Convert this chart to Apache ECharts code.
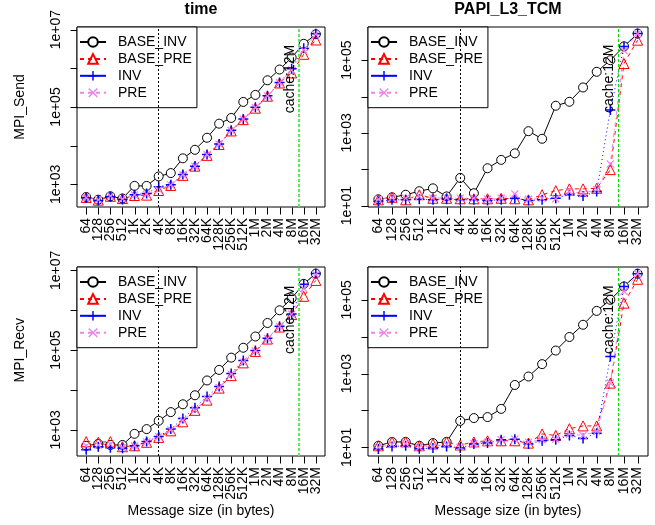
<!DOCTYPE html>
<html>
<head>
<meta charset="utf-8">
<script src="https://cdn.jsdelivr.net/npm/echarts@6.0.0/dist/echarts.min.js"></script>
<style>
html, body { margin: 0; padding: 0; background: #fff; }
#main { width: 655px; height: 525px; }
</style>
</head>
<body>
<div id="main"></div>
<script>
// message sizes on the x axis
var sizes = ['64', '128', '256', '512', '1K', '2K', '4K', '8K', '16K', '32K', '64K',
  '128K', '256K', '512K', '1M', '2M', '4M', '8M', '16M', '32M'];
var seriesNames = ['BASE_INV', 'BASE_PRE', 'INV', 'PRE'];

// time, MPI_Send
var sendTimeBaseInv = [470, 400, 490, 430, 910, 910, 1600, 1950, 4700, 7800, 16000, 37000, 52000, 135000, 205000, 490000, 930000, 1900000, 4300000, 7600000];
var sendTimeBasePre = [457, 389, 490, 427, 513, 525, 692, 933, 1700, 2950, 5600, 10700, 24000, 47000, 93000, 190000, 417000, 760000, 2300000, 5400000];
var sendTimeInv = [447, 380, 479, 407, 537, 575, 870, 977, 1780, 2950, 5900, 11000, 25000, 49000, 98000, 195000, 427000, 980000, 3300000, 7800000];
var sendTimePre = [447, 398, 500, 417, 525, 550, 720, 960, 1750, 2900, 5800, 10900, 24500, 48000, 96000, 192000, 420000, 900000, 2950000, 7600000];

// PAPI_L3_TCM, MPI_Send
var sendL3BaseInv = [15, 17, 20, 25, 30, 18, 58, 22, 107, 182, 275, 1120, 690, 5600, 7200, 17800, 48000, 100000, 240000, 540000];
var sendL3BasePre = [14.5, 17, 14.5, 20, 16, 16, 15.5, 15.5, 15.5, 16, 15.5, 14.5, 20, 26, 29, 29, 30, 98, 81000, 355000];
var sendL3Inv = [13, 14.5, 14.5, 15, 14.5, 15, 14.5, 14.5, 14, 14.5, 16, 14, 14.5, 16, 20, 18.5, 24.5, 4300, 240000, 540000];
var sendL3Pre = [15, 16.5, 16, 18, 16, 16.5, 16, 16, 15, 16, 21, 15, 16, 15.5, 24.5, 22, 27.5, 140, 186000, 540000];

// time, MPI_Recv
var recvTimeBaseInv = [400, 450, 420, 420, 800, 1050, 1700, 2800, 4400, 7400, 17400, 32000, 65000, 115000, 220000, 480000, 1000000, 2000000, 4600000, 8300000];
var recvTimeBasePre = [510, 490, 510, 380, 400, 490, 650, 950, 1600, 3100, 5600, 11200, 23000, 48000, 93000, 190000, 380000, 780000, 2240000, 5600000];
var recvTimeInv = [320, 380, 360, 350, 400, 510, 690, 1050, 1950, 3600, 6900, 12300, 26000, 55000, 98000, 200000, 400000, 810000, 4500000, 8300000];
var recvTimePre = [400, 420, 440, 360, 400, 500, 680, 1000, 1740, 3200, 6000, 11500, 25000, 50000, 95000, 195000, 390000, 790000, 3500000, 7900000];

// PAPI_L3_TCM, MPI_Recv
var recvL3BaseInv = [11, 14, 14, 11, 13, 14, 52, 62, 66, 110, 490, 830, 1800, 4200, 9800, 21000, 50000, 100000, 230000, 510000];
var recvL3BasePre = [11, 14, 14, 11, 12.3, 14, 11.5, 14, 15, 15, 15, 13, 23, 21, 32, 38, 38, 550, 81000, 360000];
var recvL3Inv = [9, 10.5, 11, 9.1, 9.5, 10.5, 9.5, 12.3, 13, 16, 16.6, 12.3, 15, 16, 21, 17.4, 24, 2900, 230000, 510000];
var recvL3Pre = [10, 12, 12.6, 10, 10.5, 12, 10, 12.6, 13.5, 16, 16.6, 13.8, 16, 16.6, 23, 21, 27, 550, 170000, 510000];

// y ticks, as powers of ten, and the labelled ones
var timeTicks = [3, 4, 5, 6, 7];
var timeLabels = [3, 5, 7];
var l3Ticks = [1, 2, 3, 4, 5];
var l3Labels = [1, 3, 5];

// 4K marker and 12M cache size (as position on the log2 size scale)
var markX = 6;
var cacheX = Math.log2(12 * 1024 * 1024 / 64);

var font = '"Liberation Sans", Arial, sans-serif';
var colors = ['#000000', '#ff0000', '#0000ff', '#ee82ee'];
var plusPath = 'path://M4.25,0H5.75V4.25H10V5.75H5.75V10H4.25V5.75H0V4.25H4.25Z';
var crossPath = 'path://M0,1.06L1.06,0L5,3.94L8.94,0L10,1.06L6.06,5L10,8.94L8.94,10L5,6.06L1.06,10L0,8.94L3.94,5Z';
var symbols = ['circle', 'triangle', plusPath, crossPath];
var symbolSizes = [9, 10, 10, 8];
var fills = ['#ffffff', 'rgba(255,255,255,0)', '#0000ff', '#ee82ee'];
var dashes = ['solid', [4, 4], [1, 3], [1, 3, 4, 3]];

// R style 4% padding of the x range
var xmin = -0.76, xmax = 19.76;
var tickLen = 7;

// y extents are given as exponents (log10)
var panels = [
  { grid: { left: 77, top: 27, width: 248, height: 180 }, data: [sendTimeBaseInv, sendTimeBasePre, sendTimeInv, sendTimePre],
    ymin: 2.413, ymax: 7.068, ticks: timeTicks, labels: timeLabels, yname: 'MPI_Send', xname: '', green: 2, textY: 5.72 },
  { grid: { left: 368, top: 27, width: 280, height: 180 }, data: [sendL3BaseInv, sendL3BasePre, sendL3Inv, sendL3Pre],
    ymin: 0.964, ymax: 5.913, ticks: l3Ticks, labels: l3Labels, yname: '', xname: '', green: 1, textY: 4.49 },
  { grid: { left: 77, top: 267, width: 248, height: 189 }, data: [recvTimeBaseInv, recvTimeBasePre, recvTimeInv, recvTimePre],
    ymin: 2.347, ymax: 7.085, ticks: timeTicks, labels: timeLabels, yname: 'MPI_Recv', xname: 'Message size (in bytes)', green: 2, textY: 5.76 },
  { grid: { left: 368, top: 267, width: 280, height: 189 }, data: [recvL3BaseInv, recvL3BasePre, recvL3Inv, recvL3Pre],
    ymin: 0.764, ymax: 5.889, ticks: l3Ticks, labels: l3Labels, yname: '', xname: 'Message size (in bytes)', green: 1, textY: 4.46 }
];

function expLabel(labels) {
  return function (e) {
    e = Math.round(Number(e));
    if (labels.indexOf(e) < 0) return '';
    return '1e+' + (e < 10 ? '0' : '') + e;
  };
}

// axis with nothing drawn
function bare(o) {
  return Object.assign({
    axisLine: { show: false }, axisTick: { show: false },
    axisLabel: { show: false }, splitLine: { show: false }
  }, o);
}

// outward tick at a data point, dx/dy in pixels
function tickItem(dx, dy) {
  return function (params, api) {
    var pt = api.coord([api.value(0), api.value(1)]);
    var x = Math.round(pt[0]) + 0.5, y = Math.round(pt[1]) + 0.5;
    return {
      type: 'line', silent: true,
      shape: { x1: x, y1: y, x2: x + dx, y2: y + dy },
      style: { stroke: '#000', lineWidth: 1 }
    };
  };
}

var grids = [], xAxes = [], yAxes = [], series = [], legends = [];

panels.forEach(function (p, g) {
  var gr = p.grid;
  var xPix = function (i) { return gr.left + gr.width * (i - xmin) / (xmax - xmin); };
  var yPix = function (e) { return gr.top + gr.height * (p.ymax - e) / (p.ymax - p.ymin); };
  var first = p.ticks[0], last = p.ticks[p.ticks.length - 1];
  var base = grids.length;

  // plotting region with box
  grids.push(Object.assign({ show: true, borderColor: '#000', borderWidth: 1, backgroundColor: 'transparent' }, gr));
  // strip under the box for the size labels
  var gx = { show: false, left: xPix(0), top: gr.top + gr.height, height: tickLen };
  gx.width = xPix(sizes.length - 1) - gx.left;
  grids.push(gx);
  // strip left of the box for the decade labels
  var gy = { show: false, left: gr.left - tickLen, width: tickLen, top: yPix(last) };
  gy.height = yPix(first) - gy.top;
  grids.push(gy);

  // data axes
  xAxes.push(bare({ type: 'value', gridIndex: base, min: xmin, max: xmax }));
  yAxes.push(bare({ type: 'log', logBase: 10, gridIndex: base,
    min: Math.pow(10, p.ymin), max: Math.pow(10, p.ymax) }));

  // size labels
  xAxes.push(bare({
    type: 'category', gridIndex: base + 1, data: sizes, boundaryGap: false,
    name: p.xname, nameLocation: 'middle', nameGap: 41,
    nameTextStyle: { fontSize: 14, color: '#000', fontFamily: font },
    axisLabel: { show: true, interval: 0, rotate: 90, margin: 4, fontSize: 14, color: '#000', fontFamily: font }
  }));
  yAxes.push(bare({ type: 'value', gridIndex: base + 1, min: 0, max: 1 }));

  // decade labels
  xAxes.push(bare({ type: 'value', gridIndex: base + 2, min: 0, max: 1 }));
  yAxes.push(bare({
    type: 'category', gridIndex: base + 2, data: p.ticks, boundaryGap: false,
    name: p.yname, nameLocation: 'middle', nameGap: 43, nameRotate: 90,
    nameTextStyle: { fontSize: 14, color: '#000', fontFamily: font },
    axisLabel: { show: true, interval: 0, rotate: 90, margin: 7, fontSize: 14, color: '#000', fontFamily: font,
      formatter: expLabel(p.labels) }
  }));

  seriesNames.forEach(function (name, k) {
    var s = {
      name: name, type: 'line', xAxisIndex: base, yAxisIndex: base,
      data: p.data[k].map(function (v, i) { return [i, v]; }),
      symbol: symbols[k], symbolSize: symbolSizes[k], showAllSymbol: true,
      lineStyle: { color: colors[k], width: 1, type: dashes[k] },
      itemStyle: { color: fills[k], borderColor: colors[k], borderWidth: k < 2 ? 1 : 0 },
      animation: false, silent: true
    };
    if (k === 0) {
      s.markLine = {
        symbol: 'none', silent: true, animation: false, label: { show: false },
        data: [
          { xAxis: markX, lineStyle: { color: '#000', width: 1, type: [2, 2] } },
          { xAxis: cacheX, lineStyle: { color: g % 2 ? '#00e000' : '#55ee55', width: p.green, type: [3, 2] } }
        ]
      };
      s.markPoint = {
        silent: true, animation: false, symbol: 'circle', symbolSize: 1, itemStyle: { color: 'transparent', borderWidth: 0 },
        data: [{ coord: [cacheX - 0.7, Math.pow(10, p.textY)] }],
        label: { show: true, position: 'inside', formatter: 'cache:12M', rotate: 90, fontSize: 14, color: '#000', fontFamily: font }
      };
    }
    series.push(s);
  });

  // tick marks, placed through the data axes
  series.push({
    type: 'custom', xAxisIndex: base, yAxisIndex: base, clip: false, silent: true, animation: false,
    encode: { x: 0, y: 1 },
    data: sizes.map(function (s, i) { return [i, Math.pow(10, p.ymin)]; }),
    renderItem: tickItem(0, tickLen)
  });
  series.push({
    type: 'custom', xAxisIndex: base, yAxisIndex: base, clip: false, silent: true, animation: false,
    encode: { x: 0, y: 1 },
    data: p.ticks.map(function (e) { return [xmin, Math.pow(10, e)]; }),
    renderItem: tickItem(-tickLen, 0)
  });

  legends.push({
    orient: 'vertical', left: gr.left, top: gr.top,
    padding: [8, 5, 8, 2], itemWidth: 26, itemHeight: 12, itemGap: 2.9,
    backgroundColor: '#fff', borderColor: '#000', borderWidth: 1, borderRadius: 0,
    selectedMode: false,
    textStyle: { fontSize: 14, lineHeight: 14, color: '#000', fontFamily: font, padding: [0, 0, 0, 7] },
    data: [
      { name: 'BASE_INV' },
      { name: 'BASE_PRE' },
      { name: 'INV', lineStyle: { type: 'solid' } },
      { name: 'PRE', lineStyle: { type: [4, 4] } }
    ]
  });
});

var myChart = echarts.init(document.getElementById('main'));
myChart.setOption({
  animation: false,
  title: [
    { text: 'time', left: 201, top: 2, textAlign: 'center', padding: 0,
      textStyle: { fontSize: 16, fontWeight: 'bold', color: '#000', fontFamily: font } },
    { text: 'PAPI_L3_TCM', left: 508, top: 2, textAlign: 'center', padding: 0,
      textStyle: { fontSize: 16, fontWeight: 'bold', color: '#000', fontFamily: font } }
  ],
  legend: legends,
  grid: grids,
  xAxis: xAxes,
  yAxis: yAxes,
  series: series
});
</script>
</body>
</html>
